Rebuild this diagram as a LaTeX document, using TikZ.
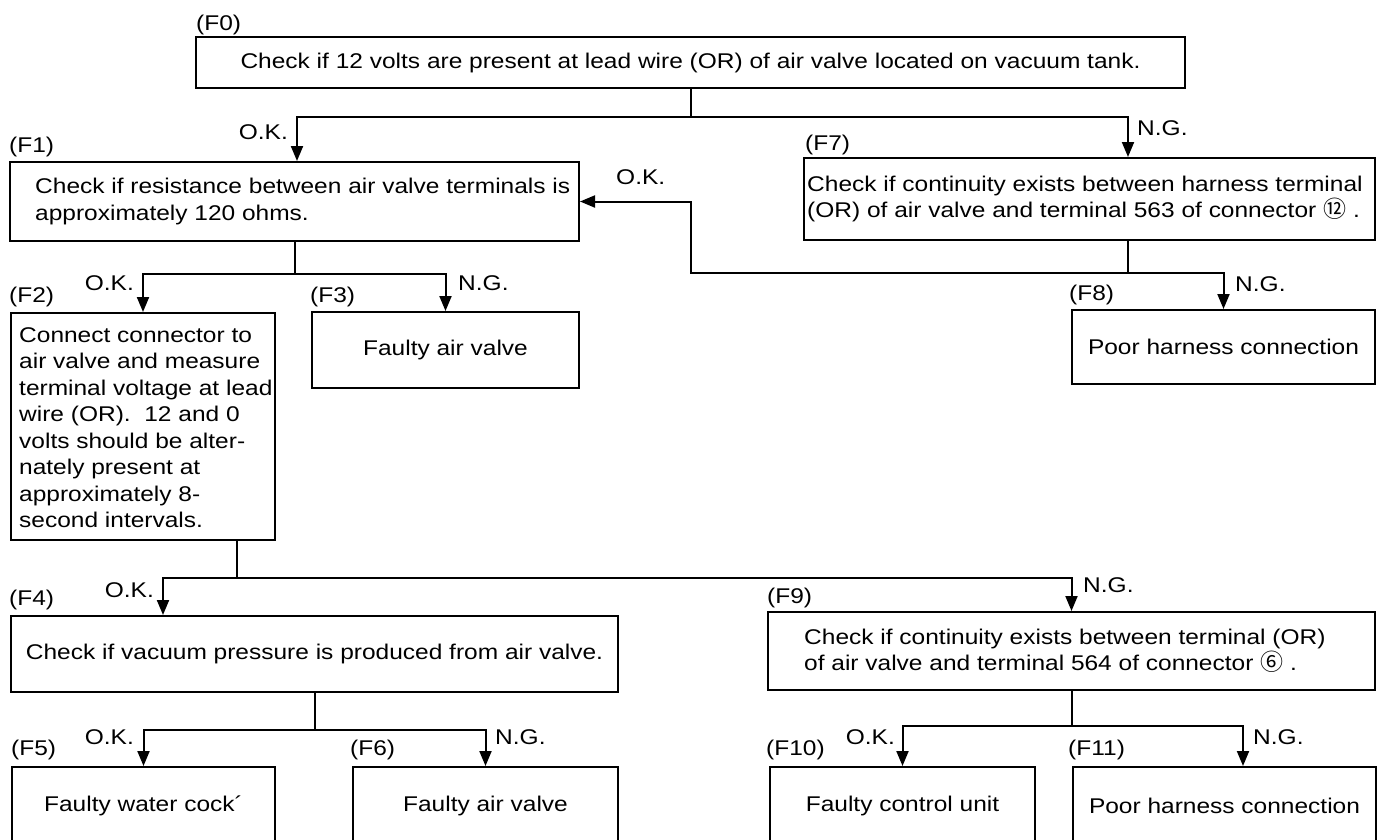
\documentclass[tikz,border=0pt]{standalone}
\usepackage{fontspec}
\setmainfont{Liberation Sans}[FakeStretch=1.15]
\newfontfamily\cjk{Noto Sans CJK JP}
\usetikzlibrary{arrows.meta}
\begin{document}
\begin{tikzpicture}[x=1pt,y=-1pt,
  every node/.style={font=\fontsize{21.3}{26.5}\selectfont},
  box/.style={draw, line width=2pt, inner sep=0pt},
  txt/.style={inner sep=0pt, align=left, anchor=west},
  lab/.style={inner sep=0pt, anchor=west},
  okl/.style={inner sep=0pt, anchor=east},
  ngl/.style={inner sep=0pt, anchor=west},
  wire/.style={draw, line width=2pt},
  arr/.style={draw, line width=2pt, -{Triangle[length=15pt,width=12pt]}}]
\useasboundingbox (0,0) rectangle (1382,839);
\clip (0,0) rectangle (1382,839);
\newcommand{\circled}[1]{{\cjk\fontsize{23}{26.5}\selectfont #1}}

% boxes
\node[box, minimum width=989pt, minimum height=51pt] (F0) at (690.5,62.5)
  {Check if 12 volts are present at lead wire (OR) of air valve located on vacuum tank.};
\node[box, minimum width=569pt, minimum height=79pt] (F1) at (294.5,201.5) {};
\node[box, minimum width=571pt, minimum height=82pt] (F7) at (1089.5,199) {};
\node[box, minimum width=264pt, minimum height=227pt] (F2) at (143,426.5) {};
\node[box, minimum width=267pt, minimum height=76pt] (F3) at (445.5,350) {Faulty air valve};
\node[box, minimum width=303pt, minimum height=74pt] (F8) at (1223.5,347) {Poor harness connection};
\node[box, minimum width=607pt, minimum height=76pt] (F4) at (314.5,654)
  {Check if vacuum pressure is produced from air valve.};
\node[box, minimum width=607pt, minimum height=78pt] (F9) at (1071.5,651) {};
\node[box, minimum width=263pt, minimum height=78pt] (F5) at (143.5,806) {Faulty water cock\textasciiacute};
\node[box, minimum width=265pt, minimum height=78pt] (F6) at (485.5,806) {Faulty air valve};
\node[box, minimum width=265pt, minimum height=78pt] (F10) at (902.5,806) {Faulty control unit};
\node[box, minimum width=303pt, minimum height=78pt] (F11) at (1224.5,806) {Poor harness connection};

% left-aligned texts
\node[txt] (t1) at ([xshift=26pt]F1.west)
  {Check if resistance between air valve terminals is\\approximately 120 ohms.};
\node[txt] (t7) at ([xshift=4pt]F7.west)
  {Check if continuity exists between harness terminal\\(OR) of air valve and terminal 563 of connector \circled{⑫}\ .};
\node[txt] (t2) at ([xshift=9pt,yshift=-1pt]F2.west)
  {Connect connector to\\air valve and measure\\terminal voltage at lead\\wire (OR).\ \ 12 and 0\\volts should be alter-\\nately present at\\approximately 8-\\second intervals.};
\node[txt] (t9) at ([xshift=37pt]F9.west)
  {Check if continuity exists between terminal (OR)\\of air valve and terminal 564 of connector \circled{⑥}\ .};

% step labels
\node[lab] (lF0) at (196,25) {(F0)};
\node[lab] (lF1) at (9,147) {(F1)};
\node[lab] (lF7) at (805,145) {(F7)};
\node[lab] (lF2) at (9,297) {(F2)};
\node[lab] (lF3) at (310,297) {(F3)};
\node[lab] (lF8) at (1069,295) {(F8)};
\node[lab] (lF4) at (9,600) {(F4)};
\node[lab] (lF9) at (767,598) {(F9)};
\node[lab] (lF5) at (11,750) {(F5)};
\node[lab] (lF6) at (350,750) {(F6)};
\node[lab] (lF10) at (766,750) {(F10)};
\node[lab] (lF11) at (1068,750) {(F11)};

% junctions
\coordinate (j0) at (690.5,117);
\coordinate (j1) at (294.5,274);
\coordinate (j7) at (1128,273);
\coordinate (k7) at (690.5,273);
\coordinate (j2) at (237,578);
\coordinate (j4) at (314.5,730);
\coordinate (j9) at (1071.5,726);

% connectors
\draw[wire] (F0.south) -- (j0);
\draw[arr] (j0) -| ([xshift=2.5pt]F1.north);
\draw[arr] (j0) -| ([xshift=38.5pt]F7.north);

\draw[wire] (F1.south) -- (j1);
\draw[arr] (j1) -| (F2.north);
\draw[arr] (j1) -| (F3.north);

\draw[wire] ([xshift=38.5pt]F7.south) -- (j7);
\draw[arr] (j7) -| (F8.north);
\draw[arr] (j7) -- (k7) |- (F1.east);

\draw[wire] ([xshift=94pt]F2.south) -- (j2);
\draw[arr] (j2) -| ([xshift=-151.5pt]F4.north);
\draw[arr] (j2) -| (F9.north);

\draw[wire] (F4.south) -- (j4);
\draw[arr] (j4) -| (F5.north);
\draw[arr] (j4) -| (F6.north);

\draw[wire] (F9.south) -- (j9);
\draw[arr] (j9) -| (F10.north);
\draw[arr] (j9) -| ([xshift=18.5pt]F11.north);

% branch labels
\node[okl] (ok01) at (288,132) {O.K.};
\node[ngl] (ng07) at (1137,128) {N.G.};
\node[ngl] (ok71) at (616,177) {O.K.};
\node[okl] (ok12) at (134,283) {O.K.};
\node[ngl] (ng13) at (458,283) {N.G.};
\node[ngl] (ng78) at (1235,284) {N.G.};
\node[okl] (ok24) at (154,590) {O.K.};
\node[ngl] (ng29) at (1083,585) {N.G.};
\node[okl] (ok45) at (134,737) {O.K.};
\node[ngl] (ng46) at (495,737) {N.G.};
\node[okl] (ok910) at (895,737) {O.K.};
\node[ngl] (ng911) at (1253,737) {N.G.};
\end{tikzpicture}
\end{document}
